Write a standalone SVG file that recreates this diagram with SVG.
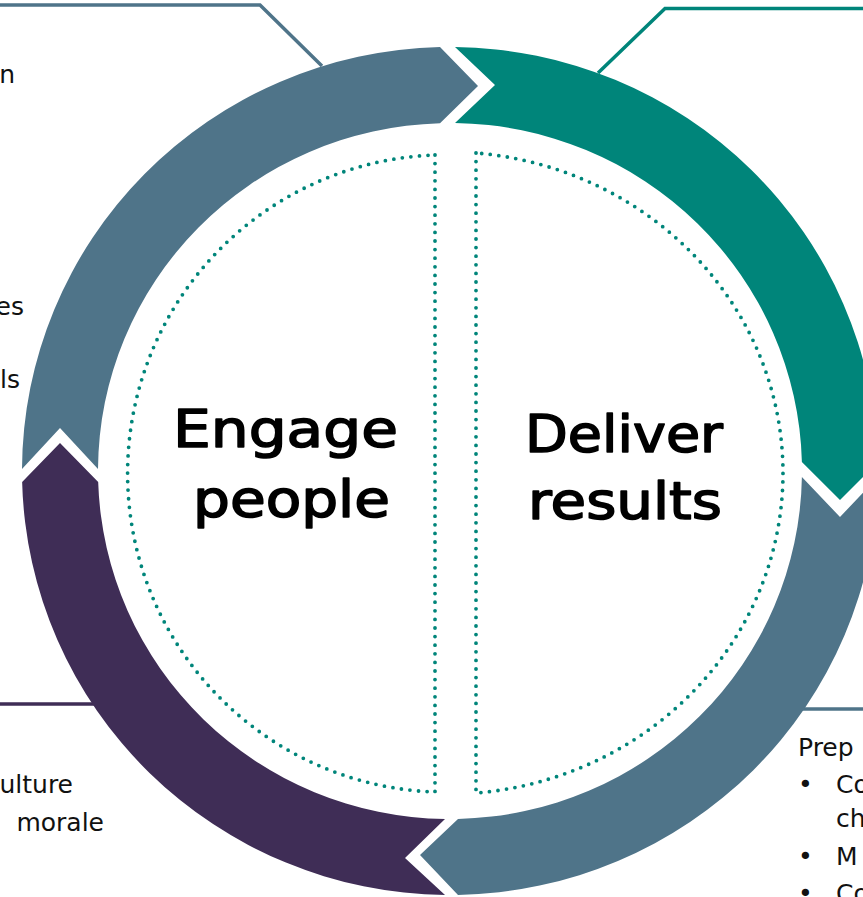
<svg xmlns="http://www.w3.org/2000/svg" width="863" height="897" viewBox="0 0 863 897">
  <style>
    .slate { fill: #4F7489; }
    .teal { fill: #00857A; }
    .plum { fill: #3F2D56; }
    .lead { fill: none; stroke-width: 3.5; }
    .dots { fill: none; stroke: #00857A; stroke-width: 3.8; stroke-linecap: round; stroke-dasharray: 0 8.6; }
    .big { font-family: "DejaVu Sans", "Liberation Sans", sans-serif; font-size: 52px; fill: #000; stroke: #000; stroke-width: 1.6; stroke-linejoin: round; text-anchor: middle; }
    .side { font-family: "DejaVu Sans", "Liberation Sans", sans-serif; font-size: 25px; fill: #111; }
    .r { text-anchor: end; }
  </style>

  <!-- leader lines to the side notes -->
  <g id="connectors">
    <path class="lead" stroke="#4F7489" d="M0,5 H260 L322,66"/>
    <path class="lead" stroke="#00857A" d="M863,8.5 H665 L598,73"/>
    <path class="lead" stroke="#3F2D56" d="M0,704 H96"/>
    <path class="lead" stroke="#4F7489" d="M863,709 H800"/>
  </g>

  <!-- four chevron-ended ring segments, running clockwise -->
  <g id="arc-top-right">
    <path class="teal" d="M455,47.03 A428,424 0 0 1 877.9,462 L840,500 L801.9,462 A352,348 0 0 0 455,123.04 L495,85 Z"/>
  </g>
  <g id="arc-bottom-right">
    <path class="slate" d="M877.95,477 A428,424 0 0 1 458,894.93 L420,855 L458,818.9 A352,348 0 0 0 801.9,477 L840,517 Z"/>
  </g>
  <g id="arc-bottom-left">
    <path class="plum" d="M445,894.97 A428,424 0 0 1 22.14,482 L60,443 L98.18,482 A352,348 0 0 0 445,818.96 L405,858 Z"/>
  </g>
  <g id="arc-top-left">
    <path class="slate" d="M22,469 A428,424 0 0 1 440,47.12 L478,86 L440,123.14 A352,348 0 0 0 98,469 L60,428 Z"/>
  </g>

  <!-- dotted half panels -->
  <g id="engage-people">
    <path class="dots" d="M435,155 L435,792 A318.7,318.7 0 0 1 435,155 Z"/>
    <text class="big" x="285.5" y="447" textLength="225" lengthAdjust="spacingAndGlyphs">Engage</text>
    <text class="big" x="291.5" y="517" textLength="197" lengthAdjust="spacingAndGlyphs">people</text>
  </g>
  <g id="deliver-results">
    <path class="dots" d="M476,153 L476,793 A336,321.2 0 0 0 476,153 Z"/>
    <text class="big" x="624" y="452" textLength="198" lengthAdjust="spacingAndGlyphs">Deliver</text>
    <text class="big" x="625" y="519" textLength="194" lengthAdjust="spacingAndGlyphs">results</text>
  </g>

  <!-- side notes, running off the edges -->
  <g id="notes-left">
    <text class="side r" x="15" y="83">n</text>
    <text class="side r" x="24" y="315">es</text>
    <text class="side r" x="20" y="388">ls</text>
    <text class="side r" x="73" y="793">ulture</text>
    <text class="side r" x="104" y="831">morale</text>
  </g>
  <g id="notes-right">
    <text class="side" x="798" y="756">Prep</text>
    <text class="side" x="798" y="793">•</text>
    <text class="side" x="836" y="793">Co</text>
    <text class="side" x="836" y="827">ch</text>
    <text class="side" x="798" y="865">•</text>
    <text class="side" x="836" y="865">M</text>
    <text class="side" x="798" y="902">•</text>
    <text class="side" x="836" y="902">Co</text>
  </g>
</svg>
